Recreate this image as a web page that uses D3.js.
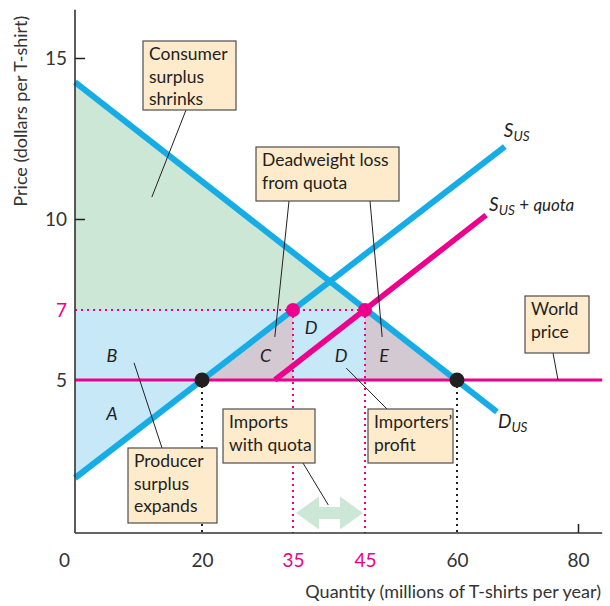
<!DOCTYPE html>
<html>
<head>
<meta charset="utf-8">
<script src="https://cdn.jsdelivr.net/npm/d3@7"></script>
<style>
  body { margin: 0; background: #fff; }
  svg { display: block; font-family: Lato, "Noto Sans", sans-serif; }
</style>
</head>
<body>
<svg id="chart" width="610" height="606"></svg>
<script>
// tick values (the figure is not drawn to scale, so the scales are piecewise)
const qTicks = [0, 20, 35, 45, 60, 80]
const pTicks = [5, 7, 10, 15]

// curves as [quantity, price] end points
const supplyUS = [[0, 2.2], [67.9, 12.25]]
const demandUS = [[0, 14.25], [66.6, 4.09]]
const supplyQuota = [[32, 5], [64.8, 10.12]]

const worldPrice = 5
const quotaPrice = 7
const quotaQty = [35, 45]
const freeTradeQty = [20, 60]

// black = free trade points, pink = with quota
const blackPts = [[20, 5], [60, 5]]
const pinkPts = [[35, 7], [45, 7]]

// area letters
const letters = [
  { t: 'A', q: 5.8, p: 4.03 },
  { t: 'B', q: 5.8, p: 5.69 },
  { t: 'C', q: 30.5, p: 5.71 },
  { t: 'D', q: 37.5, p: 6.51 },
  { t: 'D', q: 41.7, p: 5.71 },
  { t: 'E', q: 48.1, p: 5.71 }
]

const pink = '#ec008c'
const blue = '#16ace6'
const ink = '#231f20'

const svg = d3.select('#chart')
const xAxisY = 533

const x = d3.scaleLinear()
  .domain(qTicks)
  .range([75, 202, 293, 365, 457, 578])
const y = d3.scaleLinear()
  .domain(pTicks)
  .range([380, 310, 219, 58])

const pt = d => [x(d[0]), y(d[1])]

// --- areas ---
// consumer surplus
svg.append('polygon')
  .attr('points', [pt(demandUS[0]), [x(0), y(quotaPrice)], [x(quotaQty[1]), y(quotaPrice)]].join(' '))
  .attr('fill', '#cde7d6')
// producer surplus A + B
svg.append('polygon')
  .attr('points', [[x(0), y(quotaPrice)], [x(quotaQty[0]), y(quotaPrice)], pt(supplyUS[0])].join(' '))
  .attr('fill', '#c7e8f7')
// importers' profit D
svg.append('rect')
  .attr('x', x(quotaQty[0]))
  .attr('y', y(quotaPrice))
  .attr('width', x(quotaQty[1]) - x(quotaQty[0]))
  .attr('height', y(worldPrice) - y(quotaPrice))
  .attr('fill', '#c7e8f7')
// deadweight loss C and E
svg.append('polygon')
  .attr('points', [pt(blackPts[0]), [x(quotaQty[0]), y(quotaPrice)], [x(quotaQty[0]), y(worldPrice)]].join(' '))
  .attr('fill', '#d3c9d3')
svg.append('polygon')
  .attr('points', [[x(quotaQty[1]), y(quotaPrice)], [x(quotaQty[1]), y(worldPrice)], pt(blackPts[1])].join(' '))
  .attr('fill', '#d3c9d3')

// --- dotted guides ---
const dotted = (x1, y1, x2, y2, c) => svg.append('line')
  .attr('x1', x1).attr('y1', y1).attr('x2', x2).attr('y2', y2)
  .attr('stroke', c).attr('stroke-width', 2)
  .attr('stroke-dasharray', '2,4')

dotted(x(0), y(quotaPrice), x(quotaQty[1]), y(quotaPrice), pink)
quotaQty.forEach(q => dotted(x(q), y(quotaPrice), x(q), xAxisY, pink))
freeTradeQty.forEach(q => dotted(x(q), y(worldPrice), x(q), xAxisY, ink))

// --- curves ---
const line = d3.line().x(d => x(d[0])).y(d => y(d[1]))
svg.append('path').attr('d', line(supplyUS))
  .attr('stroke', blue).attr('stroke-width', 6).attr('fill', 'none')
svg.append('path').attr('d', line(demandUS))
  .attr('stroke', blue).attr('stroke-width', 6).attr('fill', 'none')
svg.append('line')
  .attr('x1', x(0)).attr('x2', x(84))
  .attr('y1', y(worldPrice)).attr('y2', y(worldPrice))
  .attr('stroke', pink).attr('stroke-width', 3)
svg.append('path').attr('d', line(supplyQuota))
  .attr('stroke', pink).attr('stroke-width', 5.5).attr('fill', 'none')

// --- axes ---
const yAxis = d3.axisLeft(y)
  .tickValues(pTicks)
  .tickSize(-10)
  .tickPadding(8)
const gy = svg.append('g')
  .attr('transform', `translate(${x(0)},0)`)
  .call(yAxis)
gy.select('.domain').remove()
gy.selectAll('.tick line')
  .attr('stroke', ink).attr('stroke-width', 1.5)
  .filter(d => d < 10).remove()
gy.selectAll('.tick text')
  .attr('font-size', 19)
  .attr('font-family', 'Lato, sans-serif')
  .attr('fill', d => d == quotaPrice ? pink : '#333')

const xAxis = d3.axisBottom(x)
  .tickValues(qTicks)
  .tickSize(-9)
  .tickPadding(21)
const gx = svg.append('g')
  .attr('transform', `translate(0,${xAxisY})`)
  .call(xAxis)
gx.select('.domain').remove()
gx.selectAll('.tick line')
  .attr('stroke', ink).attr('stroke-width', 1.5)
  .filter(d => d != 80).remove()
gx.selectAll('.tick text')
  .attr('font-size', 19)
  .attr('font-family', 'Lato, sans-serif')
  .attr('fill', d => quotaQty.includes(d) ? pink : '#333')
  .attr('dx', d => d == 0 ? -11 : 0)

svg.append('line')
  .attr('x1', x(0)).attr('x2', x(0))
  .attr('y1', y(16.5)).attr('y2', xAxisY)
  .attr('stroke', '#333').attr('stroke-width', 1.6)
svg.append('line')
  .attr('x1', x(0)).attr('x2', x(84))
  .attr('y1', xAxisY).attr('y2', xAxisY)
  .attr('stroke', '#333').attr('stroke-width', 1.6)

svg.append('text')
  .attr('transform', `translate(27,${(y(16.5) + y(10.2)) / 2}) rotate(-90)`)
  .attr('text-anchor', 'middle')
  .attr('font-size', 18).attr('fill', '#333')
  .text('Price (dollars per T-shirt)')
svg.append('text')
  .attr('x', 601).attr('y', 598)
  .attr('text-anchor', 'end')
  .attr('font-size', 18).attr('fill', '#333')
  .text('Quantity (millions of T-shirts per year)')

// --- points ---
svg.selectAll('.bdot').data(blackPts).join('circle')
  .attr('cx', d => x(d[0])).attr('cy', d => y(d[1])).attr('r', 7.5).attr('fill', ink)
svg.selectAll('.pdot').data(pinkPts).join('circle')
  .attr('cx', d => x(d[0])).attr('cy', d => y(d[1])).attr('r', 7).attr('fill', pink)

// --- letters ---
svg.selectAll('.letter').data(letters).join('text')
  .attr('x', d => x(d.q)).attr('y', d => y(d.p))
  .attr('text-anchor', 'middle').attr('dy', '0.36em')
  .attr('font-size', 18).attr('font-style', 'italic').attr('fill', ink)
  .text(d => d.t)

// --- curve labels ---
const curveLabel = (px, py, main, extra) => {
  const t = svg.append('text').attr('x', px).attr('y', py)
    .attr('font-size', 19).attr('font-style', 'italic').attr('fill', ink)
  t.append('tspan').text(main)
  t.append('tspan').attr('font-size', 13.5).attr('dy', 4).text('US')
  if (extra) {
    t.append('tspan').attr('dy', -4).attr('font-style', 'normal').attr('font-size', 17).text(' + ')
    t.append('tspan').attr('font-size', 17).text('quota')
  }
}
const sEnd = pt(supplyUS[1]), dEnd = pt(demandUS[1]), qEnd = pt(supplyQuota[1])
curveLabel(sEnd[0] - 1, sEnd[1] - 10, 'S')
curveLabel(qEnd[0] + 3, qEnd[1] - 4, 'S', true)
curveLabel(dEnd[0] + 1, dEnd[1] + 16, 'D')

// --- annotation boxes ---
const note = (bx, by, bw, bh, lines, leaders) => {
  leaders.forEach(l => svg.append('line')
    .attr('x1', l[0]).attr('y1', l[1])
    .attr('x2', x(l[2])).attr('y2', y(l[3]))
    .attr('stroke', ink).attr('stroke-width', 1))
  svg.append('rect')
    .attr('x', bx).attr('y', by).attr('width', bw).attr('height', bh)
    .attr('fill', '#fdebcb').attr('stroke', '#4d4d4d').attr('stroke-width', 1.2)
  svg.append('g').selectAll('text').data(lines).join('text')
    .attr('x', bx + 6).attr('y', (d, i) => by + 19 + i * 22.5)
    .attr('font-size', 17.5).attr('fill', ink)
    .text(d => d)
}
note(143, 41, 93, 69, ['Consumer', 'surplus', 'shrinks'], [[186, 110, 12.1, 10.68]])
note(256, 147, 143, 54, ['Deadweight loss', 'from quota'], [[289, 201, 32, 6.23], [370, 201, 47.8, 6.23]])
note(525, 296, 64, 57, ['World', 'price'], [[553, 353, 76.7, 5]])
note(128, 448, 89, 75, ['Producer', 'surplus', 'expands'], [[162, 448, 9.3, 5.49]])
note(223, 409, 92, 54, ['Imports', 'with quota'], [[303, 463, 39.9, 1.43]])
note(368, 409, 85, 54, ['Importers\u2019', 'profit'], [[387, 409, 42.4, 5.34]])

// --- imports double arrow ---
const ax1 = x(quotaQty[0]) + 3, ax2 = x(quotaQty[1]) - 2, ay = 513
const head = 23, hh = 16.5, sh = 6
svg.append('polygon')
  .attr('points', [
    [ax1, ay], [ax1 + head, ay - hh], [ax1 + head, ay - sh], [ax2 - head, ay - sh],
    [ax2 - head, ay - hh], [ax2, ay], [ax2 - head, ay + hh], [ax2 - head, ay + sh],
    [ax1 + head, ay + sh], [ax1 + head, ay + hh]
  ].join(' '))
  .attr('fill', '#cde7d6')
</script>
</body>
</html>
